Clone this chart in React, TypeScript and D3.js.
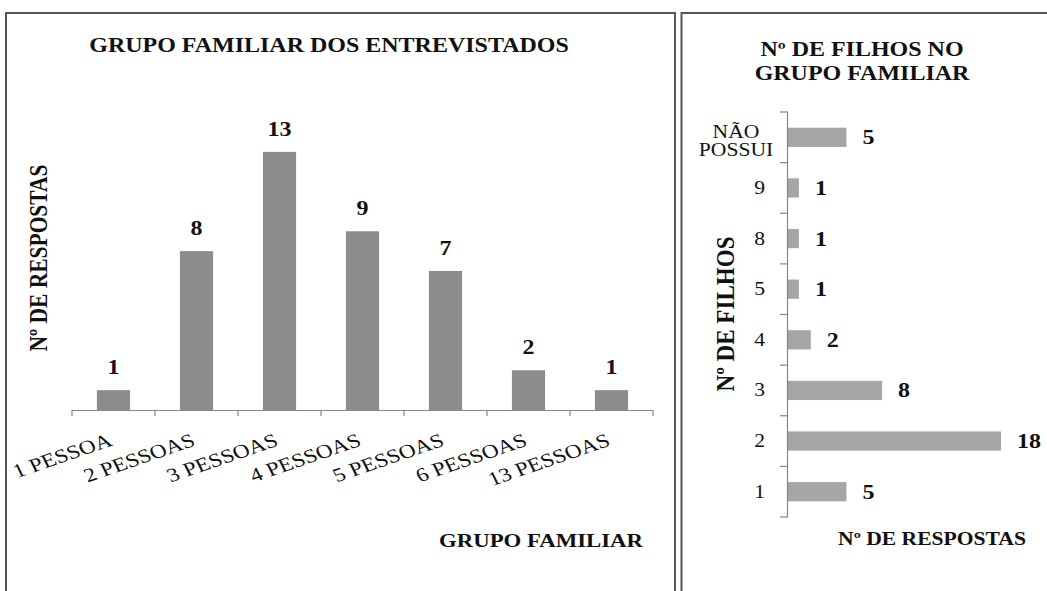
import React from "react";
import * as d3 from "d3";

const groupCategories = ["1 PESSOA", "2 PESSOAS", "3 PESSOAS", "4 PESSOAS", "5 PESSOAS", "6 PESSOAS", "13 PESSOAS"];
const groupValues = [1, 8, 13, 9, 7, 2, 1];

const childCategories = ["NÃO POSSUI", "9", "8", "5", "4", "3", "2", "1"];
const childValues = [5, 1, 1, 1, 2, 8, 18, 5];

const W = 1047;
const H = 591;
const SX = 1.2; // horizontal stretch of the reference picture
const FONT = "'Liberation Serif', 'Times New Roman', serif";

export default function App() {
  // Left chart scales
  const xL = d3.scaleBand<string>().domain(groupCategories).range([72, 653]).paddingInner(0.6).paddingOuter(0.3);
  const xLTicks = d3.scaleBand<string>().domain(groupCategories).range([72, 653]);
  const yL = d3.scaleLinear().domain([0, 14]).range([410, 132]);

  // Right chart scales
  const yR = d3.scaleBand<string>().domain(childCategories).range([112, 517]).paddingInner(0.62).paddingOuter(0.31);
  const yRTicks = d3.scaleBand<string>().domain(childCategories).range([112, 517]);
  const xR = d3.scaleLinear().domain([0, 18]).range([787, 1001]);

  const axisColor = "#868686";
  const rotA = (Math.atan(Math.tan((19 * Math.PI) / 180) * SX) * 180) / Math.PI;

  return (
    <svg width={W} height={H} style={{ position: "absolute", left: 0, top: 0, background: "#fff" }} fontFamily={FONT}>
      <rect x={0} y={0} width={W} height={H} fill="#fff" />
      {/* panel borders */}
      <path d="M6,600 V13 H675 V600" fill="none" stroke="#555" strokeWidth={2} />
      <path d="M681.5,600 V13 H1060" fill="none" stroke="#555" strokeWidth={2} />

      {/* LEFT CHART */}
      <text transform={`translate(329,52) scale(${SX},1)`} textAnchor="middle" fontWeight="bold" fontSize={20} fill="#111">
        GRUPO FAMILIAR DOS ENTREVISTADOS
      </text>
      <text
        transform={`translate(47,258) scale(${SX},1) rotate(-90)`}
        textAnchor="middle"
        fontWeight="bold"
        fontSize={21}
        fill="#111"
        textLength={187}
        lengthAdjust="spacingAndGlyphs"
      >
        Nº DE RESPOSTAS
      </text>
      {groupCategories.map((c, i) => {
        const v = groupValues[i];
        const x = xL(c)!;
        return (
          <g key={c}>
            <rect x={x} y={yL(v)} width={xL.bandwidth()} height={yL(0) - yL(v)} fill="#8c8c8c" />
            <text
              transform={`translate(${x + xL.bandwidth() / 2},${yL(v) - 16}) scale(${SX},1)`}
              textAnchor="middle"
              fontWeight="bold"
              fontSize={20}
              fill="#111"
            >
              {v}
            </text>
          </g>
        );
      })}
      <line x1={72} x2={653} y1={410.5} y2={410.5} stroke={axisColor} strokeWidth={1.2} />
      {[...groupCategories.map((c) => xLTicks(c)!), 653].map((t, i) => (
        <line key={i} x1={t} x2={t} y1={410} y2={416} stroke={axisColor} strokeWidth={1.2} />
      ))}
      {groupCategories.map((c) => {
        const cx = xLTicks(c)! + xLTicks.bandwidth() / 2;
        return (
          <text
            key={c}
            transform={`translate(${cx},445) scale(${SX},1) rotate(${-rotA})`}
            textAnchor="end"
            fontSize={19.5}
            fill="#111"
          >
            {c}
          </text>
        );
      })}
      <text transform={`translate(541,547) scale(${SX},1)`} textAnchor="middle" fontWeight="bold" fontSize={19} fill="#111">
        GRUPO FAMILIAR
      </text>

      {/* RIGHT CHART */}
      <text transform={`translate(862,56) scale(${SX},1)`} textAnchor="middle" fontWeight="bold" fontSize={20} fill="#111">
        Nº DE FILHOS NO
      </text>
      <text transform={`translate(862,80) scale(${SX},1)`} textAnchor="middle" fontWeight="bold" fontSize={20} fill="#111">
        GRUPO FAMILIAR
      </text>
      <text
        transform={`translate(734,314) scale(${SX},1) rotate(-90)`}
        textAnchor="middle"
        fontWeight="bold"
        fontSize={21}
        fill="#111"
        textLength={155}
        lengthAdjust="spacingAndGlyphs"
      >
        Nº DE FILHOS
      </text>
      {childCategories.map((c, i) => {
        const v = childValues[i];
        const y = yR(c)!;
        return (
          <g key={c}>
            <rect x={xR(0)} y={y} width={xR(v) - xR(0)} height={yR.bandwidth()} fill="#a6a6a6" />
            <text
              transform={`translate(${xR(v) + 16},${y + yR.bandwidth() / 2 + 7}) scale(${SX},1)`}
              textAnchor="start"
              fontWeight="bold"
              fontSize={20}
              fill="#111"
            >
              {v}
            </text>
          </g>
        );
      })}
      <line x1={787.5} x2={787.5} y1={112} y2={517} stroke={axisColor} strokeWidth={1.2} />
      {[...childCategories.map((c) => yRTicks(c)!), 517].map((t, i) => (
        <line key={i} x1={780} x2={788} y1={t} y2={t} stroke={axisColor} strokeWidth={1.2} />
      ))}
      {childCategories.map((c) => {
        const cy = yRTicks(c)! + yRTicks.bandwidth() / 2;
        const words = c.split(" ");
        if (words.length > 1) {
          return (
            <g key={c}>
              {words.map((w, j) => (
                <text
                  key={w}
                  transform={`translate(736,${cy + 1 + j * 18}) scale(${SX},1)`}
                  textAnchor="middle"
                  fontSize={18}
                  fill="#111"
                >
                  {w}
                </text>
              ))}
            </g>
          );
        }
        return (
          <text key={c} transform={`translate(765,${cy + 6}) scale(${SX},1)`} textAnchor="end" fontSize={18} fill="#111">
            {c}
          </text>
        );
      })}
      <text transform={`translate(932,545) scale(${SX},1)`} textAnchor="middle" fontWeight="bold" fontSize={18} fill="#111">
        Nº DE RESPOSTAS
      </text>
    </svg>
  );
}
